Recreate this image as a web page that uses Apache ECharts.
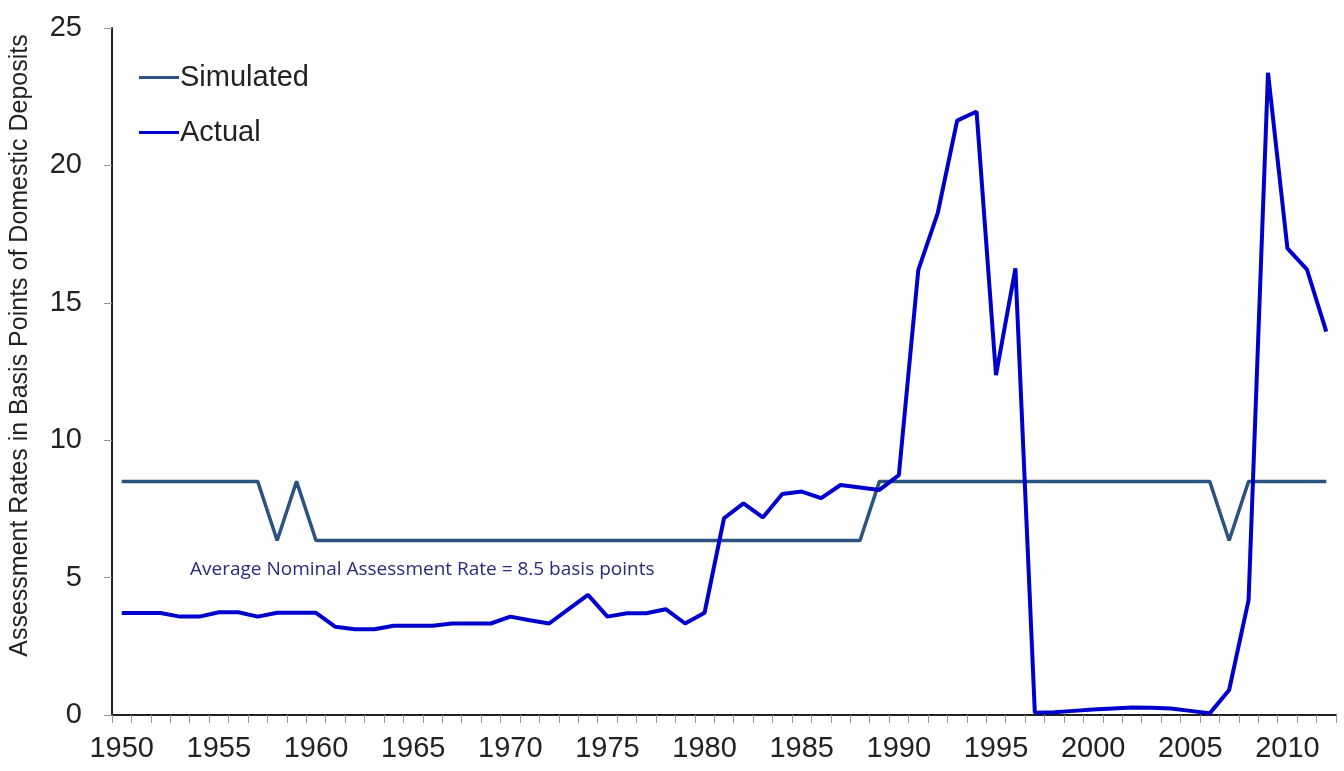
<!DOCTYPE html>
<html>
<head>
<meta charset="utf-8">
<script src="https://cdn.jsdelivr.net/npm/echarts@6/dist/echarts.min.js"></script>
<style>
  html, body { margin: 0; padding: 0; background: #fff; }
  #chart { width: 1344px; height: 771px; }
</style>
</head>
<body>
<div id="chart"></div>
<script>
// years on the x axis
var years = [];
for (var y = 1950; y <= 2012; y++) years.push(String(y));

// simulated assessment rate (basis points)
var simulated = [
  8.5, 8.5, 8.5, 8.5, 8.5, 8.5, 8.5, 8.5, 6.35, 8.5,
  6.35, 6.35, 6.35, 6.35, 6.35, 6.35, 6.35, 6.35, 6.35, 6.35,
  6.35, 6.35, 6.35, 6.35, 6.35, 6.35, 6.35, 6.35, 6.35, 6.35,
  6.35, 6.35, 6.35, 6.35, 6.35, 6.35, 6.35, 6.35, 6.35, 8.5,
  8.5, 8.5, 8.5, 8.5, 8.5, 8.5, 8.5, 8.5, 8.5, 8.5,
  8.5, 8.5, 8.5, 8.5, 8.5, 8.5, 8.5, 6.35, 8.5, 8.5,
  8.5, 8.5, 8.5
];

// actual assessment rate (basis points)
var actual = [
  3.71, 3.71, 3.71, 3.58, 3.58, 3.74, 3.74, 3.58, 3.72, 3.72,
  3.72, 3.21, 3.12, 3.12, 3.25, 3.25, 3.25, 3.33, 3.33, 3.33,
  3.58, 3.45, 3.33, 3.85, 4.37, 3.58, 3.70, 3.70, 3.85, 3.33,
  3.72, 7.16, 7.70, 7.19, 8.04, 8.13, 7.89, 8.37, 8.28, 8.19,
  8.73, 16.19, 18.26, 21.63, 21.96, 12.37, 16.25, 0.08, 0.10, 0.15,
  0.20, 0.24, 0.27, 0.26, 0.24, 0.15, 0.06, 0.91, 4.18, 23.37,
  16.98, 16.22, 13.95
];

var yTicks = [0, 5, 10, 15, 20, 25];

var font = 'Liberation Sans, Arial, sans-serif';
var chart = echarts.init(document.getElementById('chart'));

chart.setOption({
  animation: false,
  color: ['#2B5380', '#0000CC'],
  textStyle: { fontFamily: font },
  grid: { left: 112, right: 8, top: 28, bottom: 56, outerBoundsMode: 'none', containLabel: false },
  legend: {
    orient: 'vertical',
    left: 134,
    top: 58,
    itemWidth: 40,
    itemHeight: 3,
    itemGap: 26,
    icon: 'rect',
    textStyle: { fontSize: 29, color: '#222', padding: [0, 0, 0, -4], fontFamily: font },
    data: ['Simulated', 'Actual']
  },
  xAxis: {
    type: 'category',
    data: years,
    boundaryGap: true,
    axisLine: { lineStyle: { color: '#222', width: 2 } },
    axisTick: { show: true, interval: 0, length: 8, lineStyle: { color: '#999' } },
    axisLabel: {
      interval: 4,
      fontSize: 29,
      color: '#222',
      margin: 19
    }
  },
  yAxis: {
    type: 'value',
    min: yTicks[0],
    max: yTicks[yTicks.length - 1],
    interval: 5,
    name: 'Assessment Rates in Basis Points of Domestic Deposits',
    nameLocation: 'middle',
    nameGap: 79,
    nameTextStyle: { fontSize: 25, color: '#222', padding: [0, 0, 0, 52] },
    splitLine: { show: false },
    axisLine: { show: true, lineStyle: { color: '#222', width: 2 } },
    axisTick: { show: true, length: 8, lineStyle: { color: '#999' } },
    axisLabel: { fontSize: 29, color: '#222', margin: 30 }
  },
  graphic: [{
    type: 'text',
    left: 190,
    top: 560,
    style: {
      text: 'Average Nominal Assessment Rate = 8.5 basis points',
      fill: '#2A2A7A',
      font: '19px "Open Sans", sans-serif'
    }
  }],
  series: [
    {
      name: 'Simulated',
      type: 'line',
      data: simulated,
      symbol: 'none',
      lineStyle: { width: 3.5 }
    },
    {
      name: 'Actual',
      type: 'line',
      data: actual,
      symbol: 'none',
      lineStyle: { width: 4 }
    }
  ]
});
</script>
</body>
</html>
